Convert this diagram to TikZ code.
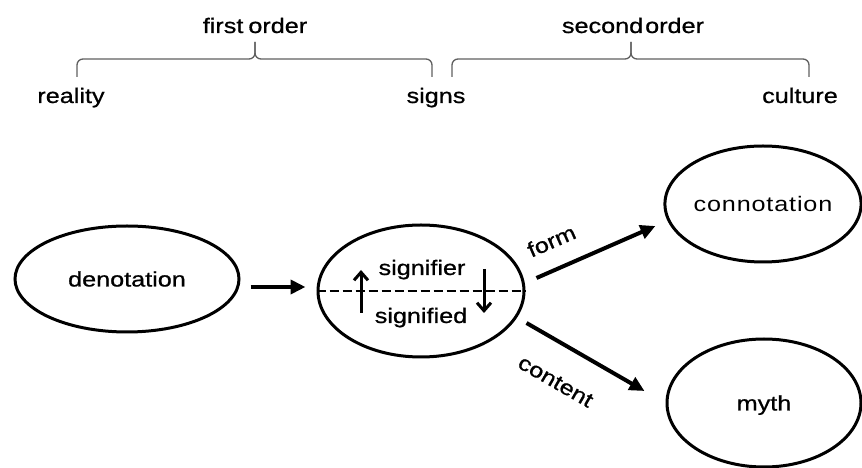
\documentclass[tikz,border=0pt]{standalone}
\usepackage{fontspec}
\setmainfont{Liberation Sans}[FakeStretch=1.2,FakeBold=0.8]
\newfontfamily\lightfont{Liberation Sans}[FakeStretch=1.2,LetterSpace=4]
\usepackage{xcolor}
\usepackage{tikz}
\usetikzlibrary{shapes.geometric,arrows.meta}
\definecolor{bracegray}{RGB}{95,95,95}

\begin{document}
\begin{tikzpicture}[x=1pt, y=1pt, node distance=100pt, font=\fontsize{21}{25}\selectfont]
    \tikzstyle{ell} = [ellipse, draw, line width=3pt, inner sep=0pt, text height=15pt, text depth=0pt]
    \tikzstyle{arr} = [-{Triangle[length=15pt,width=14pt]}, line width=4pt]
    \tikzstyle{flip} = [-{Straight Barb[length=8pt,width=14pt]}, line width=3pt]
    \tikzstyle{order} = [rounded corners=6pt, line width=1.3pt, draw=bracegray]
    \tikzstyle{lbl} = [anchor=base, inner sep=0pt]

    \useasboundingbox (0,0) rectangle (862,468);

    % Orders and their ends
    \node [lbl] (first) at (255,435) {first\hspace{5pt}order};
    \node [lbl] (second) at (633,435) {second\hspace{2pt}order};
    \node [lbl] (reality) at (71,365) {reality};
    \node [lbl] (signs) at (436,365) {signs};
    \node [lbl] (culture) at (800,365) {culture};

    % Braces
    \coordinate (first_l) at (77,391);
    \coordinate (first_r) at (432,391);
    \coordinate (first_t) at (255,426);
    \coordinate (second_l) at (452,391);
    \coordinate (second_r) at (809,391);
    \coordinate (second_t) at (631,426);
    \draw [order] (first_l) |- ([yshift=-17pt]first_t) -- (first_t);
    \draw [order] (first_r) |- ([yshift=-17pt]first_t) -- (first_t);
    \draw [order] (second_l) |- ([yshift=-17pt]second_t) -- (second_t);
    \draw [order] (second_r) |- ([yshift=-17pt]second_t) -- (second_t);

    % Ellipses
    \node [ell, minimum width=224pt, minimum height=106pt] (deno) at (127,189) {denotation};
    \node [ell, right of=deno, xshift=194pt, yshift=-12pt, minimum width=206pt, minimum height=132pt] (sign) {};
    \node [ell, right of=sign, xshift=242pt, yshift=87pt, minimum width=196pt, minimum height=116pt, font=\lightfont\fontsize{21}{25}\selectfont] (conn) {connotation};
    \node [ell, below of=conn, xshift=1pt, yshift=-99pt, minimum width=194pt, minimum height=128pt] (myth) {myth};

    % Inside the sign
    \node [lbl] (signifier) at (422,193) {signifier};
    \node [lbl] (signified) at (421,145) {signified};
    \draw [line width=2.8pt, dash pattern=on 9pt off 4pt] (sign.west) -- (sign.east);
    \draw [flip] ([xshift=-60pt,yshift=-22pt]sign.center) -- ([xshift=-60pt,yshift=21pt]sign.center);
    \draw [flip] ([xshift=63pt,yshift=22pt]sign.center) -- ([xshift=63pt,yshift=-22pt]sign.center);

    % Arrows
    \draw [arr] ([xshift=10pt,yshift=-8pt]deno.east) -- ([xshift=-11pt,yshift=4pt]sign.west);
    \draw [arr] ([xshift=11pt,yshift=13pt]sign.east) -- node [pos=0.22, sloped, above=15pt] {form} ([xshift=-8pt,yshift=-22pt]conn.west);
    \draw [arr] ([xshift=1pt,yshift=-32pt]sign.east) -- node [pos=0.40, sloped, below=24pt] {content} ([xshift=-21pt,yshift=12pt]myth.west);
\end{tikzpicture}
\end{document}
